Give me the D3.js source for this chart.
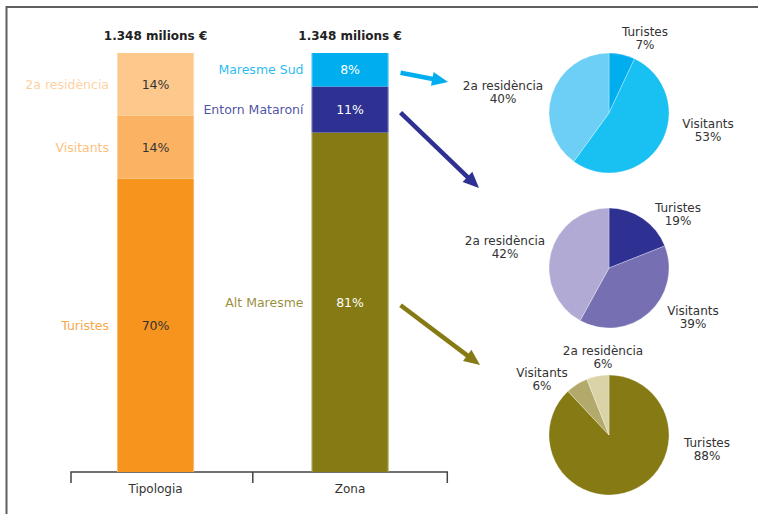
<!DOCTYPE html>
<html><head><meta charset="utf-8">
<script src="https://cdn.jsdelivr.net/npm/d3@7"></script>
<style>html,body{margin:0;padding:0;background:#fff}svg{display:block;font-family:"DejaVu Sans",sans-serif}</style>
</head><body><div id="chart"></div>
<script>
// ---- data ----
const barCategories = ["Tipologia", "Zona"];
const barTitles = ["1.348 milions €", "1.348 milions €"];
const tipologiaNames = ["Turistes", "Visitants", "2a residència"];
const tipologiaValues = [70, 15, 15];
const tipologiaLabels = ["70%", "14%", "14%"];
const zonaNames = ["Alt Maresme", "Entorn Mataroní", "Maresme Sud"];
const zonaValues = [81, 11, 8];
const zonaLabels = ["81%", "11%", "8%"];
const pieSliceNames = ["Turistes", "Visitants", "2a residència"];
const pieMaresmeSud = [7, 53, 40];
const pieEntornMataroni = [19, 39, 42];
const pieAltMaresme = [88, 6, 6];

// ---- styles / layout ----
const W = 758, H = 514;
const tipologiaColors = ["#f7941e", "#fbb363", "#fdc88c"];
const zonaColors = ["#857a14", "#2e3192", "#00aeef"];
const pieColors = {
  "Maresme Sud": ["#00aeef", "#19c1f3", "#6dcff6"],
  "Entorn Mataroní": ["#2e3192", "#7670b3", "#b0aad4"],
  "Alt Maresme": ["#857a14", "#b3a96b", "#d9d3a7"]
};
const textDark = "#333";

const svg = d3.select("#chart").append("svg").attr("width", W).attr("height", H);
svg.append("rect").attr("width", W).attr("height", H).attr("fill", "#fff");

// frame
svg.append("path").attr("d", `M6.5,${H} V7 H${W}`).attr("fill", "none")
  .attr("stroke", "#5f5f5f").attr("stroke-width", 2);

const x = d3.scaleBand().domain(barCategories).range([58.3, 447.3])
  .paddingInner(0.604).paddingOuter(0.302);
const y = d3.scaleLinear().domain([0, 100]).range([472, 53]);

// axis
const axisY = y(0);
const midTick = x("Zona") - (x.step() - x.bandwidth()) / 2;
const ticks = [71, midTick, x.range()[1]];
svg.append("path")
  .attr("d", `M${ticks[0]},${axisY + 11} V${axisY} H${ticks[2]} V${axisY + 11} M${ticks[1]},${axisY} V${axisY + 11}`)
  .attr("fill", "none").attr("stroke", "#444").attr("stroke-width", 1.5);
svg.selectAll("text.axl").data(barCategories).join("text")
  .attr("x", d => x(d) + x.bandwidth() / 2).attr("y", 493)
  .attr("text-anchor", "middle").attr("font-size", 12).attr("fill", textDark).text(d => d);

// titles
svg.selectAll("text.ttl").data(barTitles).join("text")
  .attr("x", (d, i) => x(barCategories[i]) + x.bandwidth() / 2).attr("y", 40)
  .attr("text-anchor", "middle").attr("font-size", 12).attr("font-weight", "bold")
  .attr("fill", "#222").text(d => d);

function stackedBar(cat, names, values, labels, colors, valueTextColor, labelOpacity) {
  const stack = d3.stack().keys(names)([Object.fromEntries(names.map((n, i) => [n, values[i]]))]);
  const g = svg.append("g");
  const segs = stack.map((s, i) => ({ name: names[i], y0: s[0][0], y1: s[0][1], label: labels[i], color: colors[i] }));
  g.selectAll("rect").data(segs).join("rect")
    .attr("x", x(cat)).attr("width", x.bandwidth())
    .attr("y", d => y(d.y1)).attr("height", d => y(d.y0) - y(d.y1))
    .attr("fill", d => d.color);
  g.append("path").attr("d", `M${x(cat) + 0.5},${y(100)} V${y(0)} M${x(cat) + x.bandwidth() - 0.5},${y(100)} V${y(0)}`)
    .attr("stroke", "rgba(255,255,255,0.35)").attr("stroke-width", 1);
  g.selectAll("text.v").data(segs).join("text")
    .attr("x", x(cat) + x.bandwidth() / 2).attr("y", d => (y(d.y0) + y(d.y1)) / 2)
    .attr("dy", "0.36em").attr("text-anchor", "middle").attr("font-size", 12.5)
    .attr("fill", valueTextColor).text(d => d.label);
  g.selectAll("text.n").data(segs).join("text")
    .attr("x", x(cat) - 8).attr("y", d => (y(d.y0) + y(d.y1)) / 2)
    .attr("dy", "0.36em").attr("text-anchor", "end").attr("font-size", 12.5)
    .attr("fill", d => d.color).attr("fill-opacity", labelOpacity).text(d => d.name);
  return segs;
}
stackedBar("Tipologia", tipologiaNames, tipologiaValues, tipologiaLabels, tipologiaColors, textDark, 0.85);
const zonaSegs = stackedBar("Zona", zonaNames, zonaValues, zonaLabels, zonaColors, "#fff", 0.85);

// pies
const pies = [
  { zone: "Maresme Sud", values: pieMaresmeSud, cx: 609, cy: 113,
    lab: [[36, -81], [99, 11], [-106, -27]], arrowEnd: [-161, -31] },
  { zone: "Entorn Mataroní", values: pieEntornMataroni, cx: 609, cy: 268,
    lab: [[69, -60], [84, 43], [-104, -27]], arrowEnd: [-130, -80] },
  { zone: "Alt Maresme", values: pieAltMaresme, cx: 609, cy: 435,
    lab: [[98, 8], [-67, -62], [-6, -84]], arrowEnd: [-129, -70] }
];
const pieGen = d3.pie().sort(null).value(d => d);
const arc = d3.arc().innerRadius(0).outerRadius(60);
const lineGap = 13.5;

pies.forEach(p => {
  const g = svg.append("g").attr("transform", `translate(${p.cx},${p.cy})`);
  const arcs = pieGen(p.values);
  g.selectAll("path").data(arcs).join("path")
    .attr("d", arc).attr("fill", (d, i) => pieColors[p.zone][i])
    .attr("stroke", "rgba(255,255,255,0.5)").attr("stroke-width", 0.6);
  g.selectAll("text.nm").data(arcs).join("text")
    .attr("text-anchor", "middle").attr("font-size", 12).attr("fill", textDark)
    .attr("x", (d, i) => p.lab[i][0]).attr("y", (d, i) => p.lab[i][1] - 0.5).attr("dy", "0.36em")
    .text((d, i) => pieSliceNames[i]);
  g.selectAll("text.pc").data(arcs).join("text")
    .attr("text-anchor", "middle").attr("font-size", 12).attr("fill", textDark)
    .attr("x", (d, i) => p.lab[i][0]).attr("y", (d, i) => p.lab[i][1] - 0.5 + lineGap).attr("dy", "0.36em")
    .text(d => d.data + "%");

  // arrow from bar segment to pie
  const seg = zonaSegs.find(s => s.name === p.zone);
  const sx = x("Zona") + x.bandwidth() + 12, sy = (y(seg.y0) + y(seg.y1)) / 2 + 3;
  const tx = p.cx + p.arrowEnd[0], ty = p.cy + p.arrowEnd[1];
  const len = Math.hypot(tx - sx, ty - sy), ux = (tx - sx) / len, uy = (ty - sy) / len;
  const nx = -uy, ny = ux, hl = 16, hw = 7;
  const col = zonaColors[zonaNames.indexOf(p.zone)];
  svg.append("line").attr("x1", sx).attr("y1", sy).attr("x2", tx - ux * (hl - 2)).attr("y2", ty - uy * (hl - 2))
    .attr("stroke", col).attr("stroke-width", 4.5);
  svg.append("path")
    .attr("d", `M${tx},${ty} L${tx - ux * hl + nx * hw},${ty - uy * hl + ny * hw} L${tx - ux * hl - nx * hw},${ty - uy * hl - ny * hw} Z`)
    .attr("fill", col);
});
</script></body></html>
